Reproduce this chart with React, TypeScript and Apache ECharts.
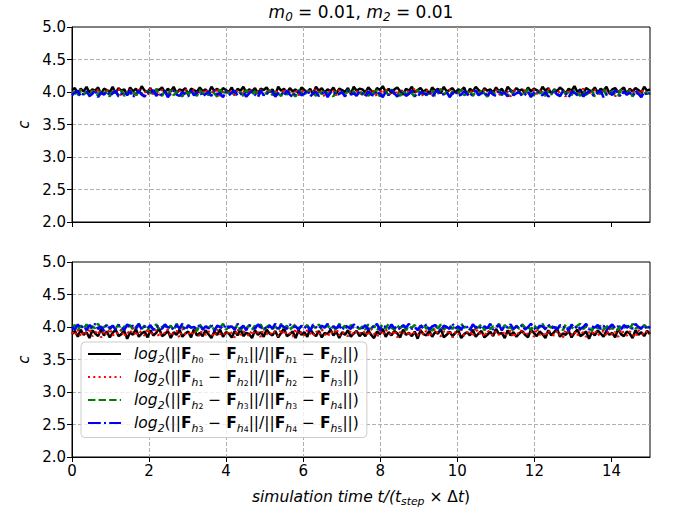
import React, { useEffect, useRef } from "react";
import * as echarts from "echarts";

const X_MAX = 15;
const xTicks = [0, 2, 4, 6, 8, 10, 12, 14];
const seriesNames = ["h0", "h1", "h2", "h3"];
const colors = ["#000000", "#ff0000", "#008000", "#0000ff"];
const dashTypes: any[] = ["solid", [2, 3.3], [7.4, 3.2], [12.8, 3.2, 2, 3.2]];

// top panel (m0 = 0.01, m2 = 0.01)
const top0 = [4.03,4.06,3.98,4.05,4.01,4.08,3.99,4.04,4.02,4.07,3.97,4.05,4.03,4.00,4.08,3.98,4.06,4.02,4.04,3.96,4.07,4.01,4.05,3.99,4.09,4.02,4.00,4.06,3.97,4.04,4.03,4.07,3.99,4.05,4.01,4.08,3.98,4.04,4.02,4.06,3.96,4.05,4.03,4.00,4.07,4.01,4.04,3.98,4.08,4.02,4.05,3.99,4.06,4.03,4.00,4.07,3.97,4.05,4.02,4.08,3.99,4.04,4.01,4.06,3.98,4.05,4.03,4.07,4.00,4.04,3.96,4.08,4.02,4.05,3.99,4.06,4.01,4.04,3.98,4.07,4.03,4.00,4.05,3.97,4.08,4.02,4.06,3.99,4.04,4.01,4.07,3.98,4.05,4.03,4.00,4.06,3.97,4.08,4.02,4.05,
  4.04,3.99,4.07,4.02,3.97,4.06,4.03,4.09,4.00,4.05,3.98,4.04,4.07,4.01,3.96,4.05,4.02,4.08,3.99,4.03,4.06,4.00,4.04,3.97,4.07,4.02,4.05,3.98,4.08,4.01,4.03,4.06,3.99,4.04,4.02,4.07,3.96,4.05,4.01,4.08,4.03,3.98,4.06,4.02,4.04,3.99,4.07,4.01,4.05,3.97,4.08,4.03,4.00,4.06,4.02,4.04,3.98,4.07,4.01,4.05,4.03,3.99,4.08,4.02,4.06,3.97,4.04,4.01,4.07,4.03,3.98,4.05,4.02,4.09,4.00,4.04,3.96,4.06,4.03,4.01,4.07,3.99,4.05,4.02,4.08,3.98,4.04,4.06,4.00,4.03,4.07,3.97,4.05,4.01,4.06,4.03,3.99,4.08,4.02,4.04];
const top1 = [3.98,4.02,3.94,4.04,3.97,4.01,3.93,4.05,3.99,4.03,3.95,4.00,4.04,3.96,4.02,3.98,4.06,3.94,4.01,3.97,4.03,3.99,3.93,4.04,3.98,4.02,3.95,4.05,3.97,4.00,3.94,4.03,3.99,4.01,3.96,4.04,3.98,4.02,3.93,4.05,3.97,4.00,4.03,3.95,4.01,3.99,4.04,3.96,4.02,3.98,4.06,3.94,4.00,3.97,4.03,3.99,3.95,4.04,3.98,4.01,3.93,4.05,3.97,4.02,3.99,4.03,3.95,4.00,4.04,3.96,4.02,3.98,3.94,4.05,3.99,4.01,3.97,4.03,3.95,4.00,4.04,3.98,4.02,3.96,4.05,3.97,4.01,3.93,4.03,3.99,4.02,3.95,4.04,3.98,4.00,3.96,4.03,3.99,4.01,3.97,
  4.01,3.95,4.04,3.98,4.02,3.93,4.03,3.97,4.05,3.99,3.94,4.02,3.96,4.04,4.00,3.95,4.03,3.98,4.06,3.97,4.01,3.93,4.04,3.99,3.96,4.02,3.98,4.05,3.94,4.00,4.03,3.97,4.01,3.95,4.04,3.99,3.93,4.02,3.98,4.05,3.96,4.00,4.03,3.94,4.01,3.99,4.04,3.97,3.95,4.02,4.00,3.93,4.05,3.98,4.01,3.96,4.03,3.99,3.94,4.04,3.97,4.02,4.00,3.95,4.06,3.98,4.01,3.96,4.03,3.99,3.93,4.04,3.97,4.02,3.95,4.00,4.05,3.98,4.01,3.94,4.03,3.99,3.96,4.04,4.00,3.97,4.02,3.93,4.05,3.98,4.01,3.96,4.03,3.99,4.02,3.95,4.04,3.97,4.00,3.98];
const top2 = [3.97,4.01,3.93,4.03,3.96,4.00,3.94,4.02,3.98,3.95,4.03,3.97,4.01,3.93,4.04,3.99,3.96,4.02,3.94,4.00,3.98,4.03,3.95,4.01,3.97,3.93,4.02,3.99,3.96,4.04,3.98,3.94,4.01,3.97,4.03,3.95,4.00,3.98,3.93,4.02,3.96,4.01,3.99,3.94,4.03,3.97,4.00,3.95,4.02,3.98,3.93,4.04,3.96,4.01,3.99,3.95,4.02,3.97,4.00,3.94,4.03,3.98,3.96,4.01,3.93,4.02,3.99,3.97,4.03,3.95,4.00,3.98,3.94,4.02,3.96,4.01,3.97,3.93,4.03,3.99,3.95,4.02,3.98,4.00,3.94,4.01,3.97,4.03,3.96,3.99,3.93,4.02,3.98,4.00,3.95,4.03,3.97,4.01,3.94,3.99,
  3.96,4.02,3.94,4.00,3.98,4.03,3.93,3.99,4.01,3.95,4.04,3.97,3.99,3.94,4.02,3.96,4.00,3.98,3.93,4.03,3.97,4.01,3.95,3.99,4.02,3.94,3.98,4.04,3.96,4.00,3.93,4.01,3.97,3.99,4.03,3.95,3.98,4.02,3.94,4.00,3.96,4.03,3.98,3.93,4.01,3.97,3.99,4.02,3.95,4.00,3.94,4.03,3.96,3.98,4.01,3.93,3.99,4.04,3.97,3.95,4.02,3.98,4.00,3.94,4.01,3.96,4.03,3.99,3.93,4.02,3.97,4.00,3.95,4.03,3.98,3.94,4.01,3.96,3.99,4.02,3.93,4.00,3.97,4.04,3.95,3.98,4.01,3.96,3.94,4.03,3.99,3.97,4.02,3.93,4.00,3.98,3.95,4.01,3.97,3.99];
const top3 = [3.95,3.99,4.02,3.93,3.98,4.01,3.94,3.97,4.03,3.92,3.99,3.96,4.01,3.94,3.98,4.02,3.93,3.97,4.00,3.95,4.02,3.92,3.98,4.01,3.96,3.93,4.00,3.97,4.03,3.94,3.99,3.95,4.01,3.92,3.98,4.02,3.96,3.94,4.00,3.97,3.93,4.02,3.95,3.99,4.01,3.93,3.97,4.00,3.94,4.03,3.96,3.98,3.92,4.01,3.95,3.99,4.02,3.94,3.97,4.00,3.93,3.98,4.01,3.96,3.92,4.02,3.95,3.99,3.97,4.01,3.93,3.98,4.00,3.94,4.02,3.96,3.92,3.99,4.01,3.95,3.97,4.03,3.93,3.98,4.00,3.94,3.96,4.02,3.92,3.99,4.01,3.95,3.97,4.00,3.93,4.02,3.96,3.98,3.94,4.01,
  3.98,3.93,4.01,3.96,3.94,4.02,3.97,3.92,4.00,3.95,4.03,3.98,3.93,3.99,4.01,3.94,3.97,4.02,3.95,3.92,4.00,3.98,3.96,4.01,3.93,3.99,4.03,3.95,3.97,4.00,3.92,3.98,4.02,3.94,3.96,4.01,3.97,3.93,3.99,4.02,3.95,3.98,4.00,3.92,4.01,3.96,3.94,4.03,3.97,3.99,3.93,4.02,3.95,3.98,4.00,3.94,3.96,4.01,3.92,3.99,4.02,3.97,3.95,4.00,3.93,3.98,4.03,3.96,3.94,4.01,3.97,3.92,4.00,3.99,3.95,4.02,3.93,3.98,4.01,3.96,3.94,3.99,4.02,3.92,3.97,4.00,3.95,4.03,3.98,3.93,4.01,3.96,3.99,3.94,4.02,3.97,3.92,4.00,3.95,3.98];

// bottom panel
const bot0 = [3.89,3.94,3.85,3.96,3.88,3.92,3.83,3.95,3.90,3.86,3.97,3.87,3.93,3.84,3.91,3.96,3.86,3.89,3.94,3.82,3.92,3.88,3.97,3.85,3.90,3.93,3.84,3.95,3.87,3.91,3.98,3.86,3.89,3.94,3.83,3.92,3.88,3.96,3.85,3.90,3.93,3.84,3.97,3.87,3.91,3.86,3.95,3.89,3.83,3.93,3.88,3.96,3.85,3.92,3.90,3.84,3.94,3.87,3.97,3.86,3.91,3.89,3.83,3.95,3.88,3.92,3.85,3.96,3.90,3.87,3.94,3.84,3.91,3.98,3.86,3.89,3.93,3.83,3.95,3.88,3.92,3.85,3.97,3.90,3.86,3.94,3.84,3.91,3.89,3.96,3.87,3.93,3.83,3.92,3.88,3.95,3.85,3.90,3.94,3.86,
  3.91,3.86,3.95,3.88,3.83,3.93,3.89,3.97,3.85,3.92,3.87,3.94,3.90,3.84,3.96,3.88,3.91,3.86,3.93,3.82,3.95,3.89,3.87,3.94,3.85,3.92,3.90,3.97,3.84,3.88,3.93,3.86,3.91,3.95,3.83,3.89,3.92,3.87,3.96,3.85,3.90,3.94,3.84,3.88,3.93,3.86,3.97,3.89,3.91,3.83,3.95,3.87,3.92,3.85,3.90,3.94,3.88,3.84,3.96,3.91,3.86,3.93,3.89,3.83,3.95,3.87,3.92,3.98,3.85,3.90,3.88,3.94,3.84,3.91,3.96,3.86,3.89,3.93,3.82,3.92,3.87,3.95,3.90,3.85,3.94,3.88,3.91,3.84,3.97,3.89,3.86,3.93,3.90,3.83,3.95,3.88,3.92,3.86,3.94,3.89];
const bot1 = [3.92,3.87,3.96,3.85,3.93,3.89,3.98,3.86,3.91,3.95,3.84,3.94,3.88,3.97,3.87,3.92,3.90,3.96,3.85,3.93,3.89,3.99,3.86,3.94,3.91,3.87,3.97,3.88,3.92,3.95,3.85,3.93,3.90,3.96,3.86,3.91,3.94,3.84,3.97,3.89,3.92,3.87,3.95,3.90,3.86,3.98,3.88,3.93,3.91,3.85,3.96,3.89,3.92,3.87,3.94,3.90,3.84,3.97,3.88,3.93,3.91,3.86,3.95,3.89,3.92,3.85,3.98,3.90,3.87,3.94,3.91,3.86,3.96,3.88,3.93,3.90,3.85,3.97,3.89,3.92,3.87,3.95,3.91,3.86,3.94,3.88,3.96,3.90,3.85,3.93,3.89,3.97,3.87,3.92,3.90,3.86,3.95,3.88,3.94,3.91,
  3.89,3.94,3.86,3.97,3.90,3.85,3.93,3.88,3.96,3.91,3.87,3.95,3.84,3.92,3.89,3.98,3.86,3.93,3.90,3.87,3.96,3.88,3.94,3.85,3.91,3.97,3.89,3.86,3.93,3.90,3.95,3.84,3.92,3.88,3.96,3.87,3.91,3.94,3.86,3.99,3.89,3.92,3.85,3.95,3.90,3.87,3.93,3.88,3.97,3.86,3.91,3.94,3.84,3.92,3.89,3.96,3.87,3.90,3.93,3.85,3.98,3.88,3.91,3.86,3.95,3.90,3.87,3.94,3.89,3.84,3.96,3.91,3.88,3.93,3.86,3.97,3.90,3.85,3.92,3.89,3.95,3.87,3.91,3.94,3.86,3.98,3.88,3.92,3.85,3.96,3.90,3.87,3.93,3.89,3.84,3.95,3.91,3.88,3.94,3.90];
const bot2 = [3.99,4.03,3.95,4.02,3.97,4.04,3.96,4.01,3.98,4.05,3.95,4.00,4.03,3.96,4.02,3.98,4.04,3.94,4.01,3.99,4.03,3.96,4.00,4.05,3.97,4.02,3.95,4.01,3.99,4.04,3.96,4.00,4.03,3.97,4.02,3.95,4.05,3.98,4.01,3.96,4.03,3.99,4.00,3.94,4.04,3.97,4.02,3.98,4.03,3.95,4.01,3.99,4.05,3.96,4.00,4.02,3.97,4.04,3.95,4.01,3.98,4.03,3.96,4.02,3.99,4.04,3.94,4.00,4.03,3.97,4.01,3.95,4.05,3.98,4.02,3.96,4.00,4.04,3.97,4.01,3.99,4.03,3.95,4.02,3.98,4.04,3.96,4.00,4.03,3.97,4.01,3.94,4.05,3.98,4.02,3.96,4.03,3.99,4.00,3.97,
  4.01,3.96,4.04,3.98,4.02,3.95,4.00,4.03,3.97,4.05,3.99,3.96,4.02,3.98,4.04,3.95,4.01,3.99,4.03,3.96,4.00,4.05,3.97,4.02,3.94,4.01,3.98,4.04,3.96,4.00,4.03,3.97,4.02,3.95,4.05,3.99,4.01,3.96,4.03,3.98,4.00,4.04,3.95,4.02,3.97,4.01,3.99,4.05,3.96,4.03,3.98,4.00,3.94,4.02,3.97,4.04,3.99,4.01,3.95,4.03,3.98,4.00,4.05,3.96,4.02,3.99,4.03,3.97,4.01,3.95,4.04,3.98,4.00,3.96,4.02,4.05,3.97,4.01,3.99,3.94,4.03,3.98,4.02,3.96,4.00,4.04,3.97,4.01,3.95,4.03,3.99,4.02,3.96,4.05,3.98,4.00,3.97,4.03,3.99,4.01];
const bot3 = [4.00,3.96,4.04,3.98,4.02,3.95,4.03,3.99,4.05,3.97,4.01,3.94,4.04,3.98,4.02,3.96,4.03,4.00,3.95,4.04,3.99,4.02,3.97,4.05,3.96,4.01,3.98,4.03,3.95,4.02,4.00,3.97,4.04,3.99,4.01,3.96,4.03,3.98,4.05,3.95,4.02,3.99,4.00,3.97,4.04,3.96,4.01,3.98,4.03,3.94,4.02,4.00,3.97,4.04,3.99,4.01,3.96,4.05,3.98,4.02,3.95,4.03,4.00,3.97,4.04,3.99,4.01,3.96,4.02,3.98,4.05,3.95,4.03,4.00,3.97,4.04,3.99,4.01,3.96,4.02,3.98,4.03,3.94,4.04,4.00,3.97,4.02,3.99,4.05,3.96,4.01,3.98,4.03,3.95,4.02,4.00,3.97,4.04,3.99,4.01,
  3.98,4.03,3.96,4.01,3.99,4.05,3.95,4.02,4.00,3.97,4.04,3.98,4.01,3.96,4.03,3.99,4.05,3.97,4.00,3.95,4.02,3.98,4.04,3.96,4.01,4.03,3.99,3.94,4.02,4.00,3.97,4.05,3.98,4.01,3.96,4.03,4.00,3.95,4.04,3.99,4.02,3.97,4.01,3.98,4.05,3.96,4.00,4.03,3.95,4.02,3.99,4.04,3.97,4.01,3.98,4.03,3.96,4.00,4.05,3.99,3.95,4.02,4.01,3.97,4.04,3.98,4.00,3.96,4.03,3.99,4.01,3.94,4.04,3.98,4.02,3.97,4.00,4.05,3.96,4.01,3.99,4.03,3.97,4.02,3.95,4.00,4.04,3.98,4.01,3.96,4.03,3.99,4.02,3.97,4.05,4.00,3.98,4.03,3.96,4.01];

const topPanel = [top0, top1, top2, top3];
const botPanel = [bot0, bot1, bot2, bot3];

const FONT = "DejaVu Sans";
const FS = 15;

function richSet(base: number, lh: number) {
  const sub = base * 0.7;
  const subsub = base * 0.5;
  const c = { fontFamily: FONT, color: "#000", fontWeight: "normal" };
  return {
    n: { ...c, fontSize: base, lineHeight: lh },
    lg: { ...c, fontSize: base, fontStyle: "italic", lineHeight: lh, padding: [0, 0, 0, 8] },
    it: { ...c, fontSize: base, fontStyle: "italic", lineHeight: lh },
    b: { ...c, fontSize: base, fontWeight: "bold", lineHeight: lh },
    si: { ...c, fontSize: sub, fontStyle: "italic", lineHeight: 0.76 * base, verticalAlign: "bottom" },
    ss: { ...c, fontSize: subsub, lineHeight: 0.32 * base, verticalAlign: "bottom" },
  } as any;
}

const legendRich = richSet(15.5, 21);
const titleRich = richSet(17, 22);
const axisRich = richSet(15.5, 20);

function legendLabel(k: number): string {
  const F = (i: number) => `{b|F}{si|h}{ss|${i}}`;
  return `{lg|log}{si|2}{n|(||}${F(k)}{n| − }${F(k + 1)}{n|||/||}${F(k + 1)}{n| − }${F(k + 2)}{n|||)}`;
}

function makeSeries(panel: number[][], axis: number) {
  return panel.map((arr, k) => ({
    type: "line",
    name: seriesNames[k],
    xAxisIndex: axis,
    yAxisIndex: axis,
    data: arr.map((v, i) => [(i * X_MAX) / (arr.length - 1), v]),
    symbol: "none",
    showSymbol: false,
    silent: true,
    z: 2 + k,
    lineStyle: { color: colors[k], width: 2.5, type: dashTypes[k], cap: "butt" },
    itemStyle: { color: colors[k] },
  }));
}

const gridLine = { show: true, showMinLine: false, showMaxLine: false, lineStyle: { color: "#b0b0b0", width: 1, type: [4, 2] } };

function xAxis(gridIndex: number, showLabels: boolean) {
  return {
    type: "value",
    gridIndex,
    min: 0,
    max: X_MAX,
    interval: 2,
    axisLine: { show: true, onZero: false, lineStyle: { color: "#000", width: 1 } },
    axisTick: { show: true, inside: false, length: 5, customValues: xTicks, lineStyle: { color: "#000", width: 1 } },
    axisLabel: {
      show: showLabels,
      customValues: xTicks,
      color: "#000",
      fontFamily: FONT,
      fontSize: FS,
      margin: 6,
    },
    splitLine: gridLine,
    name: showLabels ? "{it|simulation time t/(t}{si|step}{n| × Δ}{it|t}{n|)}" : "",
    nameLocation: "middle",
    nameGap: 30,
    nameTextStyle: { rich: axisRich },
  };
}

function yAxis(gridIndex: number) {
  return {
    type: "value",
    gridIndex,
    min: 2,
    max: 5,
    interval: 0.5,
    axisLine: { show: true, lineStyle: { color: "#000", width: 1 } },
    axisTick: { show: true, inside: false, length: 5, lineStyle: { color: "#000", width: 1 } },
    axisLabel: {
      color: "#000",
      fontFamily: FONT,
      fontSize: FS,
      margin: 6,
      formatter: (v: number) => v.toFixed(1),
    },
    splitLine: gridLine,
    name: "c",
    nameLocation: "middle",
    nameGap: 38,
    nameRotate: 90,
    nameTextStyle: { fontFamily: FONT, fontSize: FS, fontStyle: "italic", color: "#000" },
  };
}

export default function App() {
  const ref = useRef<HTMLDivElement>(null);
  useEffect(() => {
    document.body.style.margin = "0";
    if (!ref.current) return;
    const chart = echarts.init(ref.current, null, { renderer: "svg" });
    chart.setOption({
      animation: false,
      backgroundColor: "#ffffff",
      title: {
        text: "{it|m}{si|0}{n| = 0.01, }{it|m}{si|2}{n| = 0.01}",
        left: 361,
        textAlign: "center",
        top: 1,
        padding: 0,
        textStyle: { fontWeight: "normal", rich: titleRich },
      },
      grid: [
        { left: 72, top: 27, width: 578, height: 195, show: true, borderColor: "#000", borderWidth: 1, backgroundColor: "transparent" },
        { left: 72, top: 262, width: 578, height: 195, show: true, borderColor: "#000", borderWidth: 1, backgroundColor: "transparent" },
      ],
      xAxis: [xAxis(0, false), xAxis(1, true)],
      yAxis: [yAxis(0), yAxis(1)],
      legend: {
        data: seriesNames,
        orient: "vertical",
        left: 81,
        top: 342,
        padding: [4, 8, 4, 6],
        itemWidth: 33,
        itemHeight: 14,
        itemGap: 4.5,
        backgroundColor: "rgba(255,255,255,0.8)",
        borderColor: "#cccccc",
        borderWidth: 1,
        borderRadius: 4,
        selectedMode: false,
        itemStyle: { color: "rgba(0,0,0,0)", borderColor: "rgba(0,0,0,0)", borderWidth: 0 },
        formatter: (name: string) => legendLabel(seriesNames.indexOf(name)),
        textStyle: { rich: legendRich },
      },
      series: [...makeSeries(topPanel, 0), ...makeSeries(botPanel, 1)],
    });
    return () => chart.dispose();
  }, []);
  return <div ref={ref} style={{ width: 673, height: 513 }} />;
}
